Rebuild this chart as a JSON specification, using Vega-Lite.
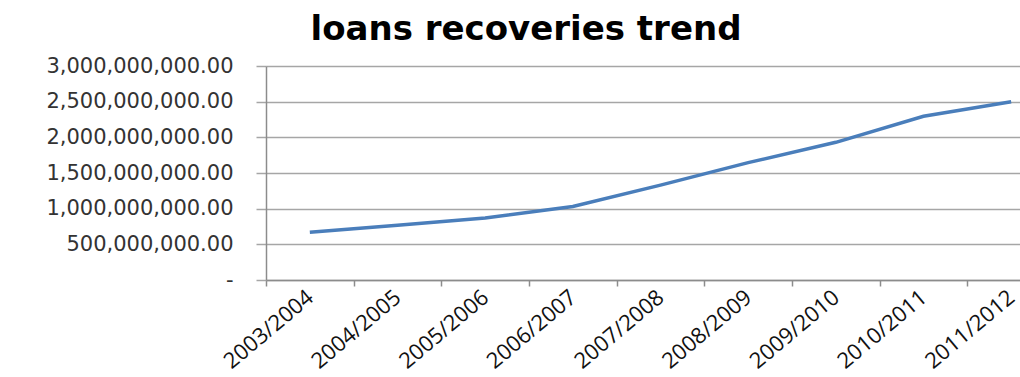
{
  "$schema": "https://vega.github.io/schema/vega-lite/v6.json",
  "width": 754,
  "height": 214,
  "autosize": {"type": "none"},
  "padding": {"left": 266, "top": 66, "right": 0, "bottom": 97},
  "background": "white",
  "title": {
    "text": "loans recoveries trend",
    "font": "DejaVu Sans",
    "fontSize": 34,
    "fontWeight": "bold",
    "color": "#000000",
    "anchor": "middle",
    "frame": "group",
    "dx": -117,
    "offset": 8
  },
  "data": {
    "values": [
      {"year": "2003/2004", "recoveries": 670000000},
      {"year": "2004/2005", "recoveries": 768000000},
      {"year": "2005/2006", "recoveries": 868000000},
      {"year": "2006/2007", "recoveries": 1030000000},
      {"year": "2007/2008", "recoveries": 1330000000},
      {"year": "2008/2009", "recoveries": 1645000000},
      {"year": "2009/2010", "recoveries": 1930000000},
      {"year": "2010/2011", "recoveries": 2295000000},
      {"year": "2011/2012", "recoveries": 2500000000}
    ]
  },
  "mark": {"type": "line", "color": "#4A7EBB", "strokeWidth": 3.5},
  "encoding": {
    "x": {
      "field": "year",
      "type": "ordinal",
      "sort": null,
      "scale": {"type": "band", "range": [0, 789], "paddingInner": 0, "paddingOuter": 0},
      "axis": {
        "title": null,
        "tickBand": "extent",
        "grid": false,
        "domainColor": "#8c8c8c",
        "domainWidth": 1.5,
        "tickColor": "#8c8c8c",
        "tickWidth": 1.5,
        "tickSize": 6,
        "labelAngle": -40,
        "labelAlign": "right",
        "labelBaseline": "middle",
        "labelPadding": 8,
        "labelDx": 6,
        "labelFont": "Open Sans",
        "labelFontSize": 22,
        "labelColor": "#111111"
      }
    },
    "y": {
      "field": "recoveries",
      "type": "quantitative",
      "scale": {"domain": [0, 3000000000], "nice": false},
      "axis": {
        "title": null,
        "values": [0, 500000000, 1000000000, 1500000000, 2000000000, 2500000000, 3000000000],
        "labelExpr": "datum.value === 0 ? '-\u00a0\u00a0\u00a0' : format(datum.value, ',.2f')",
        "grid": true,
        "gridColor": "#a6a6a6",
        "gridWidth": 1.5,
        "domainColor": "#8c8c8c",
        "domainWidth": 1.5,
        "tickColor": "#a6a6a6",
        "tickWidth": 1.5,
        "tickSize": 10,
        "labelPadding": 23,
        "labelLimit": 0,
        "labelFont": "DejaVu Sans",
        "labelFontSize": 21,
        "labelColor": "#333333"
      }
    }
  },
  "config": {"view": {"stroke": null}}
}
